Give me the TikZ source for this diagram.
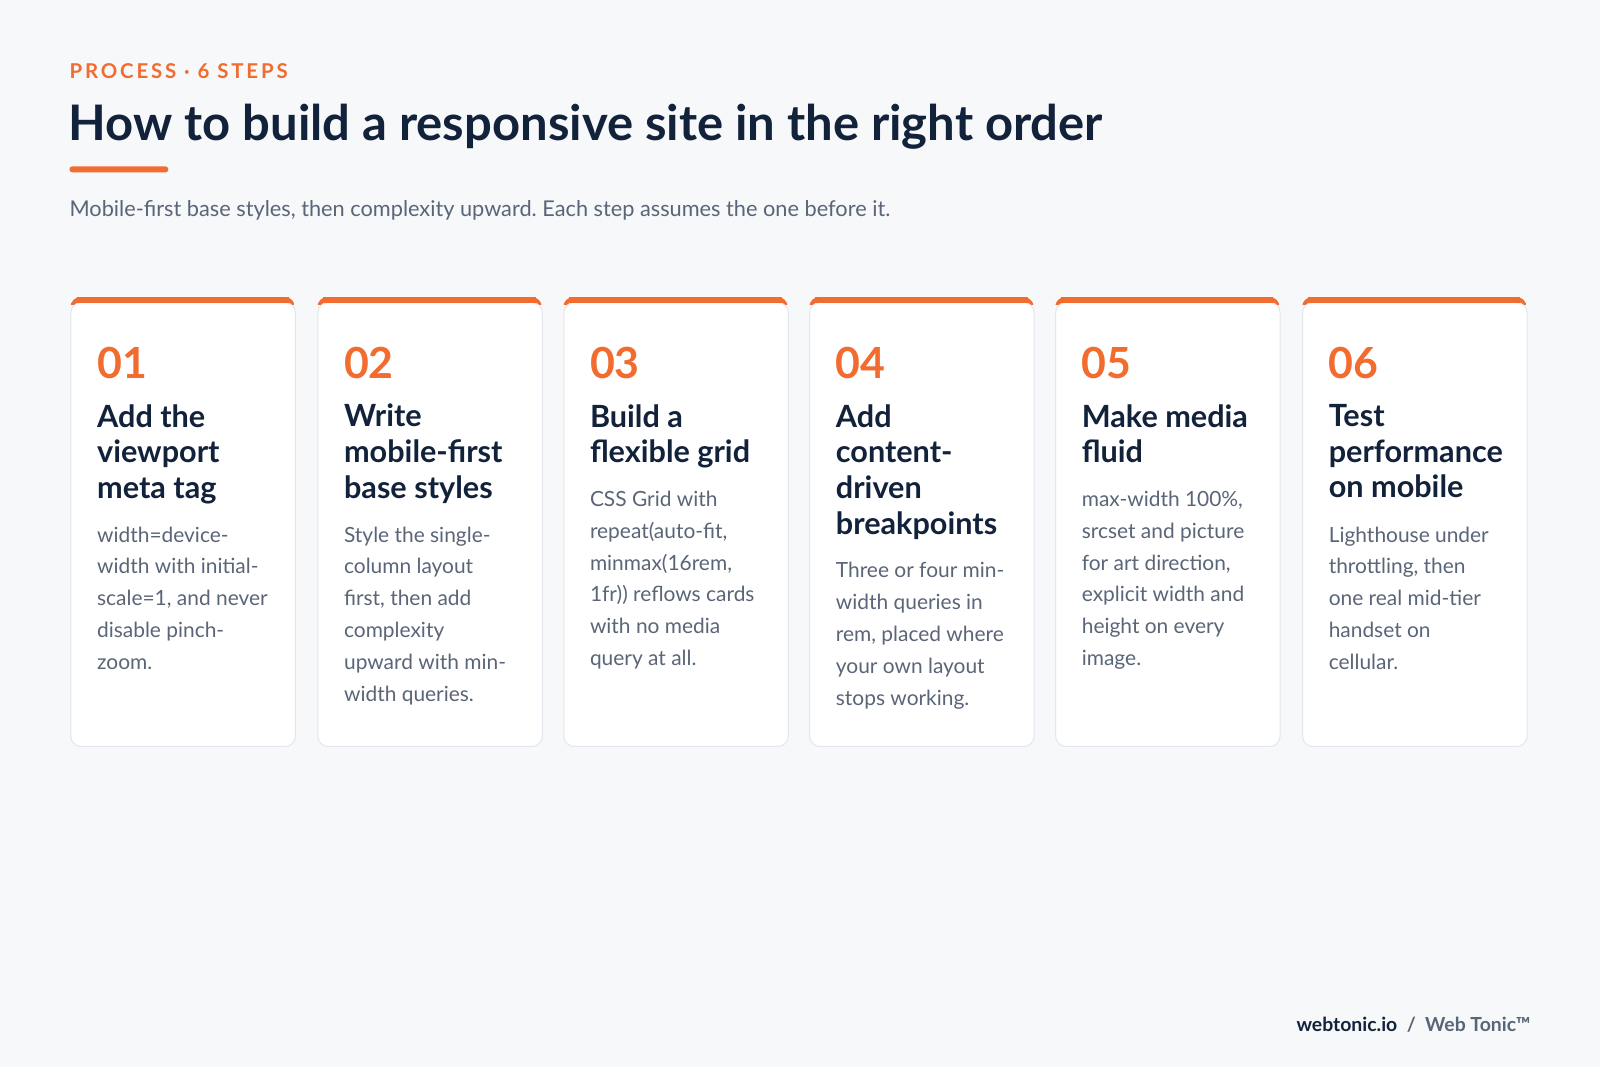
\documentclass[tikz,border=0pt]{standalone}
\usepackage{fontspec}
\setmainfont{Lato}
\newfontfamily\spaced[LetterSpace=14]{Lato}
\frenchspacing
\definecolor{bg}{HTML}{F6F8FA}
\definecolor{orng}{HTML}{F26B2F}
\definecolor{navy}{HTML}{13223B}
\definecolor{txtgray}{HTML}{5A6577}
\definecolor{edge}{HTML}{E3E7ED}
\tikzset{
  card/.style={fill=white,draw=edge,line width=1bp,rounded corners=10bp},
  num/.style={anchor=base west,inner sep=0,text=orng,font=\fontsize{42bp}{42bp}\selectfont\bfseries},
  head/.style={anchor=north west,inner sep=0,align=left,text=navy,font=\fontsize{30bp}{35bp}\selectfont\bfseries},
  body/.style={anchor=north west,inner sep=0,align=left,text=txtgray,font=\fontsize{20.5bp}{31.2bp}\selectfont},
}
\newcommand\card[6]{% name, left x, num, nlines, heading, body
  \begin{scope}
  \clip[rounded corners=10bp] (#2,291) rectangle ++(220,440);
  \fill[orng] (#2,291) rectangle ++(220,8);
  \end{scope}
  \node[card,minimum width=220bp,minimum height=435bp,anchor=north west,inner sep=0] (#1) at (#2,296) {};
  \fill[orng] (#2+6,291) rectangle ++(208,6);
  \node[num] (#1n) at (#2+26,371) {#3};
  \node[head] (#1h) at (#2+26,396) {#5};
  \node[body] (#1b) at (#2+26,{418+35*(#4-1)+28}) {#6};
}
\begin{document}
\begin{tikzpicture}[x=1bp,y=-1bp]
\fill[bg] (0,0) rectangle (1568,1046);
\useasboundingbox (0,0) rectangle (1568,1046);
\node[anchor=base west,inner sep=0,text=orng,font=\fontsize{20bp}{20bp}\selectfont\bfseries\spaced] (kick) at (68,77) {PROCESS · 6 STEPS};
\node[anchor=base west,inner sep=0,text=navy,font=\fontsize{48bp}{48bp}\selectfont\bfseries] (title) at (67,138) {How to build a responsive site in the right order};
\fill[orng,rounded corners=3bp] (68,163) rectangle (165,169);
\node[anchor=base west,inner sep=0,text=txtgray,font=\fontsize{21.3bp}{21bp}\selectfont] (sub) at (68,212) {Mobile-first base styles, then complexity upward. Each step assumes the one before it.};
\card{c1}{69}{01}{3}{Add the\\viewport\\meta tag}{width=device-\\width with initial-\\scale=1, and never\\disable pinch-\\zoom.}
\card{c2}{311}{02}{3}{Write\\mobile-first\\base styles}{Style the single-\\column layout\\first, then add\\complexity\\upward with min-\\width queries.}
\card{c3}{552}{03}{2}{Build a\\flexible grid}{CSS Grid with\\repeat(auto-fit,\\minmax(16rem,\\1fr)) reflows cards\\with no media\\query at all.}
\card{c4}{793}{04}{4}{Add\\content-\\driven\\breakpoints}{Three or four min-\\width queries in\\rem, placed where\\your own layout\\stops working.}
\card{c5}{1034}{05}{2}{Make media\\fluid}{max-width 100\%,\\srcset and picture\\for art direction,\\explicit width and\\height on every\\image.}
\card{c6}{1276}{06}{3}{Test\\performance\\on mobile}{Lighthouse under\\throttling, then\\one real mid-tier\\handset on\\cellular.}
\node[anchor=base east,inner sep=0,font=\fontsize{19bp}{19bp}\selectfont\bfseries] (foot) at (1500,1011) {\textcolor{navy}{webtonic.io}\textcolor{txtgray}{\ \ /\ \ Web Tonic™}};
\end{tikzpicture}
\end{document}
